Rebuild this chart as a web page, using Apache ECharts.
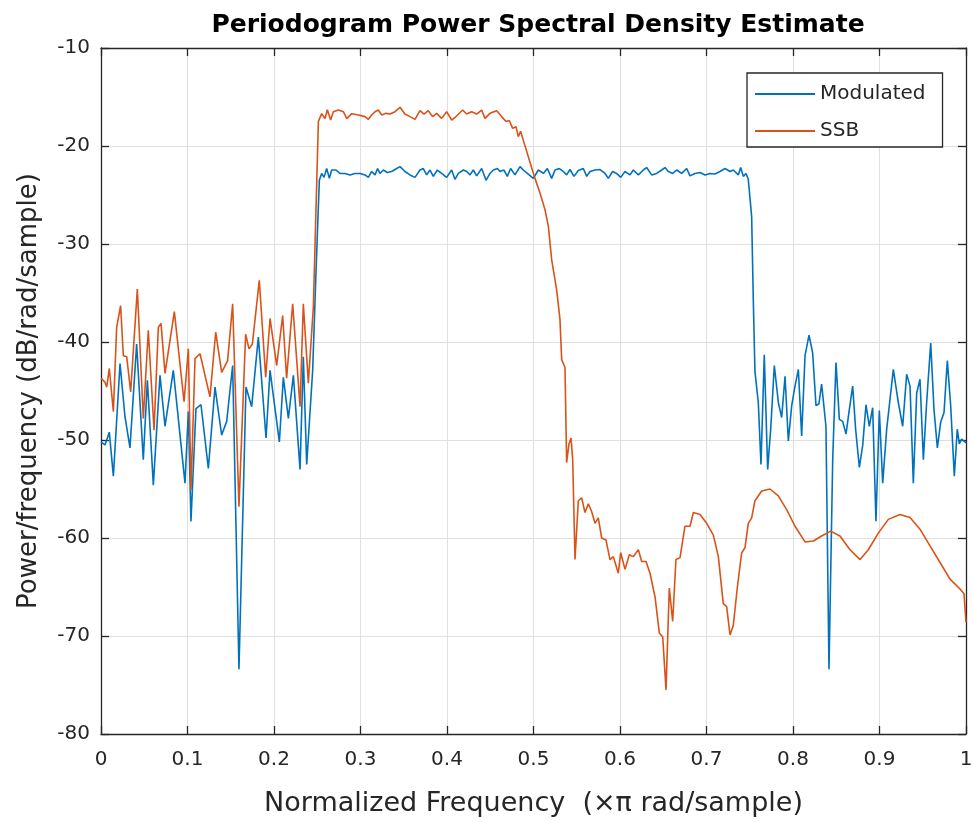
<!DOCTYPE html>
<html><head><meta charset="utf-8">
<script src="https://cdn.jsdelivr.net/npm/echarts@6/dist/echarts.min.js"></script>
<style>html,body{margin:0;padding:0;background:#fff}#c{width:973px;height:822px}</style>
</head><body><div id="c"></div>
<script>
const titleText = 'Periodogram Power Spectral Density Estimate';
const xName = 'Normalized Frequency  (\u00d7\u03c0 rad/sample)';
const yName = 'Power/frequency (dB/rad/sample)';
const seriesNames = ['Modulated', 'SSB'];

const modF = [0,0.0046,0.0096,0.0143,0.022,0.0277,0.0335,0.0412,0.0489,0.0536,0.0605,0.0682,0.074,0.0836,0.0971,0.101,0.104,0.1098,0.1156,0.1241,0.1318,0.1395,0.1453,0.1522,0.1595,0.1676,0.1742,0.1819,0.1908,0.1954,0.2062,0.2108,0.2166,0.2224,0.2301,0.2339,0.2378,0.2447,0.2485,0.2524,
0.2551,0.2578,0.2609,0.264,0.2667,0.2717,0.2763,0.2821,0.2879,0.2936,0.2994,0.3052,0.3091,0.3129,0.3168,0.3198,0.3225,0.3264,0.331,0.336,0.3418,0.3457,0.3514,0.3572,0.363,0.3688,0.3726,0.3765,0.3803,0.3842,0.3888,0.3938,0.3996,0.4054,0.4092,0.4131,0.4189,0.4227,0.4266,0.4304,0.4343,0.4401,0.4451,0.4497,0.4536,0.4582,0.4613,0.4659,0.4697,0.4736,0.4786,0.4844,0.4882,0.4929,0.4998,0.5056,0.5114,0.516,0.521,0.5249,0.5299,0.5345,0.5383,0.5422,0.5468,0.5518,0.5576,0.5615,0.5653,0.5711,0.5769,0.5827,0.5865,0.5915,0.5961,0.6008,0.6058,0.6116,0.6154,0.6212,0.627,0.6308,0.6366,0.6424,0.6482,0.652,0.6559,0.6609,0.6655,0.6713,0.6771,0.6809,0.6867,0.6925,0.6983,0.704,0.7098,0.7156,0.7214,0.7272,0.731,0.7368,0.7395,0.7426,0.7457,
0.7483,0.7522,0.7541,0.756,0.7599,0.763,
0.7668,0.7707,0.7742,0.7784,0.7831,0.7869,0.7908,0.7946,0.7985,0.8023,0.8062,0.81,0.8139,0.8185,0.8227,0.8266,0.83,0.8331,0.8381,0.8416,0.8459,0.8497,0.8536,0.8574,0.8613,0.8651,0.869,0.8724,0.8767,0.8805,0.8844,0.8882,0.8921,0.8959,0.8998,0.9037,0.9083,0.916,0.9218,0.9268,0.9314,0.9353,0.9391,0.943,0.9468,0.9507,0.9545,0.9592,0.963,0.9669,0.9707,0.9746,0.9784,0.9823,0.9865,0.9899,0.9923,0.9949,1.0];
const modP = [-50.2,-50.5,-49.2,-53.7,-42.2,-47.6,-50.8,-40.2,-52,-43.9,-54.6,-43.4,-48.6,-42.9,-54.4,-47.1,-58.3,-46.8,-46.4,-52.9,-44.6,-49.5,-48.1,-42.4,-73.4,-44.6,-46.6,-39.5,-49.8,-42.9,-50.2,-43.6,-47.8,-43.4,-53,-41.5,-52.5,-42.9,-33,-23.5,
-22.8,-23.2,-22.3,-23.3,-22.45,-22.45,-22.8,-22.8,-22.95,-22.8,-22.8,-22.95,-23.2,-22.6,-22.95,-22.3,-22.8,-22.45,-22.7,-22.6,-22.3,-22.1,-22.6,-22.95,-23.2,-22.45,-22.3,-22.95,-22.45,-23.1,-22.45,-22.8,-23.2,-22.45,-23.4,-22.8,-22.45,-22.6,-22.95,-22.45,-23.05,-22.3,-23.5,-22.8,-22.45,-22.3,-22.6,-22.45,-23.1,-22.3,-22.95,-22.1,-22.45,-22.8,-23.3,-22.45,-22.8,-22.3,-23.3,-22.45,-22.3,-22.6,-22.95,-22.4,-23.1,-22.5,-22.3,-23.1,-22.6,-22.45,-22.4,-22.8,-23.3,-22.6,-22.8,-23.2,-22.6,-22.95,-22.45,-22.95,-22.45,-22.2,-22.95,-22.8,-22.45,-22.2,-22.6,-22.8,-22.45,-22.8,-22.3,-23.05,-22.8,-22.7,-22.95,-22.8,-22.85,-22.6,-22.3,-22.6,-22.45,-22.95,-22.2,-23.1,-22.8,
-23.4,-27.2,-35.7,-43,-46.2,-52.5,
-41.3,-53,-48.9,-42.4,-46.2,-47.7,-43.5,-50.1,-46.5,-44.5,-42.8,-49.6,-41.4,-39.3,-41.1,-46.5,-46.3,-44.3,-48.6,-73.4,-52,-42.1,-47.9,-48.1,-49.4,-46.9,-44.5,-48.9,-52.8,-50.6,-46.4,-48.6,-46.7,-58.3,-47,-54.4,-48.9,-42.8,-46.2,-48.6,-43.3,-44.5,-54.4,-45.2,-43.8,-52,-46.2,-40.1,-46.9,-50.8,-48.2,-47.2,-41.9,-46.5,-53.7,-48.9,-50.4,-49.9,-50.3];

const ssbF = [0,0.0046,0.0066,0.0096,0.0143,0.0181,0.0227,0.0258,0.0297,0.0343,0.042,0.0489,0.0547,0.0613,0.0663,0.0694,0.074,0.0848,0.096,0.101,0.104,0.1087,0.1145,0.126,0.1326,0.1395,0.1464,0.1522,0.1595,0.1672,0.1711,0.175,0.183,0.1904,0.1954,0.2031,0.21,0.2146,0.2216,0.2301,0.2339,0.2397,0.2455,0.2513,
0.2551,0.259,0.2617,0.2655,0.2686,0.2744,0.2802,0.2841,0.2899,0.2976,0.3052,0.3091,0.3129,0.3168,0.3206,0.3245,0.3295,0.3341,0.3399,0.3457,0.3514,0.3572,0.363,0.3688,0.3734,0.3784,0.3834,0.388,0.3938,0.3996,0.4054,0.4111,0.4181,0.4227,0.4285,0.4343,0.4401,0.4439,0.4497,0.4574,0.4632,0.4682,0.472,0.4759,0.4798,0.4824,0.4851,0.4882,
0.494,0.5009,0.5075,0.5133,0.5172,0.521,0.5268,0.5306,0.5326,0.5364,0.5383,0.541,0.5434,0.5453,0.548,0.5518,0.5557,0.5595,0.5634,0.5672,0.5711,0.5749,0.5788,0.5838,0.5884,0.5923,0.598,0.6008,0.6058,0.6108,0.6154,0.6212,0.6251,0.6301,0.6347,0.6405,0.6455,0.6494,0.6532,0.657,0.6609,0.6647,0.6694,0.6751,0.6809,0.6848,0.6925,0.7002,0.7079,0.7137,0.7194,0.7233,0.7272,0.731,0.7357,0.7407,0.7445,0.7483,0.7522,0.756,0.7638,0.7734,0.783,0.7927,0.8023,0.8139,0.8235,0.8331,0.8435,0.8543,0.8659,0.8775,0.8871,0.8986,0.9102,0.9237,0.9353,0.9468,0.9584,0.97,0.9815,0.9931,0.9977,1.0];
const ssbP = [-43.7,-44.1,-44.6,-42.7,-47.1,-38.5,-36.3,-41.4,-41.5,-45.1,-34.6,-47.8,-38.8,-49,-38.5,-38.1,-43.2,-36.9,-46.1,-40.7,-55.1,-41.7,-41.2,-45.6,-39,-43.1,-41.9,-36.1,-56.8,-39.2,-40.7,-40.2,-33.7,-43.6,-37.6,-42.4,-37.3,-43.7,-36.1,-46.6,-36.1,-44.2,-36.4,-17.5,
-16.7,-17.2,-16.3,-17.35,-16.5,-16.33,-16.5,-17.2,-16.7,-16.84,-17,-17.28,-16.84,-16.5,-16.33,-16.84,-16.67,-16.74,-16.5,-16.05,-16.74,-17,-17.28,-16.4,-16.74,-16.4,-17,-16.67,-17.18,-16.5,-17.35,-16.94,-16.33,-16.74,-16.5,-16.74,-16.33,-17.18,-16.67,-16.4,-17,-17.5,-17.4,-18.2,-18.03,-19.05,-18.5,-19.4,
-21.1,-23.1,-24.8,-26.5,-28.2,-31.6,-34.7,-37.7,-41.8,-42.6,-52.3,-50.4,-49.8,-52,-62.2,-56.2,-55.9,-57.4,-56.5,-57.3,-58.5,-57.95,-60,-60.2,-62.2,-61.9,-63.6,-61.5,-63.2,-61.7,-61.9,-61.2,-62.4,-62.4,-63.6,-66,-69.7,-70.1,-75.5,-65.1,-68.5,-62.2,-62,-58.8,-58.8,-57.4,-57.6,-58.5,-59.7,-61.9,-66.7,-67,-69.9,-68.9,-65,-61.5,-61,-58.5,-57.95,-56.2,-55.2,-55,-55.7,-57.1,-58.8,-60.4,-60.3,-59.8,-59.3,-59.8,-61.2,-62.2,-61.2,-59.5,-58.1,-57.6,-57.9,-59.1,-60.8,-62.5,-64.2,-65.2,-65.7,-68.6];

const FONT = 'DejaVu Sans';
const TXT = '#262626';
const pairs = (f, p) => f.map((x, i) => [x, p[i]]);

const lineAxis = {show: true, onZero: false, lineStyle: {color: TXT, width: 1.3}};
const tickAxis = {show: true, inside: true, length: 8, lineStyle: {color: TXT, width: 1.3}};
const grid = {show: true, lineStyle: {color: '#dfdfdf', width: 1}};

const chart = echarts.init(document.getElementById('c'), null, {renderer: 'canvas'});
chart.setOption({
  backgroundColor: '#fff',
  animation: false,
  title: {
    text: titleText, left: 533, top: 8, textAlign: 'center',
    textStyle: {fontFamily: FONT, fontSize: 25, fontWeight: 'bold', color: '#000'}
  },
  legend: {
    orient: 'vertical', left: 747, top: 73,
    data: seriesNames, icon: 'rect', itemWidth: 60, itemHeight: 2, itemGap: 17,
    padding: [11, 17, 6, 8], borderColor: TXT, borderWidth: 1.3, backgroundColor: '#fff',
    textStyle: {fontFamily: FONT, fontSize: 20, color: TXT}
  },
  grid: {left: 101, top: 48, width: 865, height: 686, containLabel: false, outerBoundsMode: 'none'},
  xAxis: [
    {type: 'value', position: 'bottom', min: 0, max: 1, interval: 0.1,
     axisLine: lineAxis, axisTick: tickAxis, splitLine: grid,
     axisLabel: {fontFamily: FONT, fontSize: 20, color: TXT, margin: 16, showMinLabel: true, showMaxLabel: true},
     name: xName, nameLocation: 'middle', nameGap: 56,
     nameTextStyle: {fontFamily: FONT, fontSize: 27, color: TXT}},
    {type: 'value', position: 'top', min: 0, max: 1, interval: 0.1,
     axisLine: lineAxis, axisTick: tickAxis, splitLine: {show: false}, axisLabel: {show: false}}
  ],
  yAxis: [
    {type: 'value', position: 'left', min: -80, max: -10, interval: 10,
     axisLine: lineAxis, axisTick: tickAxis, splitLine: grid,
     axisLabel: {fontFamily: FONT, fontSize: 20, color: TXT, margin: 11, showMinLabel: true, showMaxLabel: true},
     name: yName, nameLocation: 'middle', nameGap: 59,
     nameTextStyle: {fontFamily: FONT, fontSize: 26, color: TXT}},
    {type: 'value', position: 'right', min: -80, max: -10, interval: 10,
     axisLine: lineAxis, axisTick: tickAxis, splitLine: {show: false}, axisLabel: {show: false}}
  ],
  series: [
    {name: seriesNames[0], type: 'line', data: pairs(modF, modP), showSymbol: false, symbol: 'none',
     color: '#0072BD', lineStyle: {width: 1.6, color: '#0072BD'}, z: 2},
    {name: seriesNames[1], type: 'line', data: pairs(ssbF, ssbP), showSymbol: false, symbol: 'none',
     color: '#D95319', lineStyle: {width: 1.6, color: '#D95319'}, z: 3}
  ]
});
</script></body></html>
